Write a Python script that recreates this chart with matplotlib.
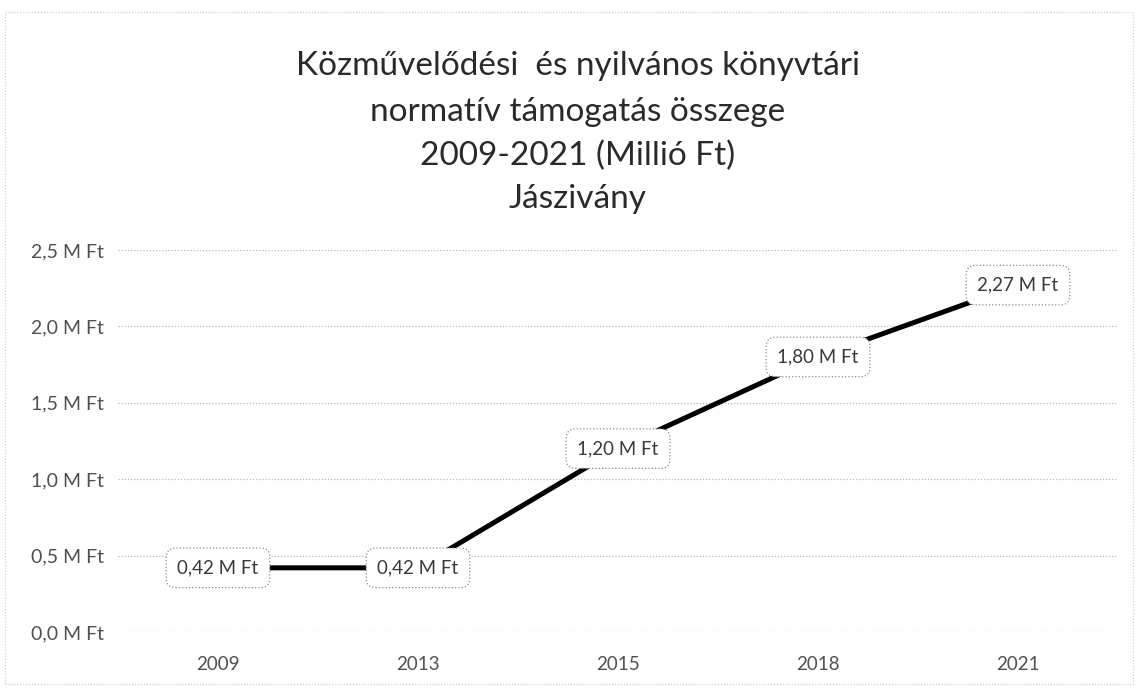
import matplotlib.pyplot as plt
from matplotlib.patches import Rectangle

years = ['2009', '2013', '2015', '2018', '2021']
values = [0.42, 0.42, 1.20, 1.80, 2.27]
yticks = [0.0, 0.5, 1.0, 1.5, 2.0, 2.5]
title_lines = ['Közművelődési  és nyilvános könyvtári',
               'normatív támogatás összege',
               '2009-2021 (Millió Ft)',
               'Jászivány']

plt.rcParams['font.family'] = ['Lato', 'DejaVu Sans']

W, H = 1139, 688
fig = plt.figure(figsize=(W / 100, H / 100), dpi=100)
fig.patch.set_facecolor('white')

# faint outer frame of the chart area
fig.patches.append(Rectangle((5 / W, 1 - 684 / H), 1128 / W, 672 / H,
                             transform=fig.transFigure, fill=False,
                             ec='#c8c8c8', lw=0.8, ls=':'))

ax = fig.add_axes([118 / W, 1 - 632 / H, 1000 / W, 382 / H])
x = list(range(len(years)))
ax.plot(x, values, color='black', lw=3.6, solid_capstyle='butt', zorder=2)

for xi, v in zip(x, values):
    lab = f'{v:.2f}'.replace('.', ',') + ' M Ft'
    ax.text(xi, v, lab, ha='center', va='center', fontsize=13.5, color='#3a3a3a',
            zorder=3,
            bbox=dict(boxstyle='round,pad=0.6,rounding_size=0.5', fc='white',
                      ec='#8a8a8a', lw=0.9, ls=':'))

ax.set_xlim(-0.5, len(years) - 0.5)
ax.set_ylim(0, 2.5)
ax.set_xticks(x)
ax.set_xticklabels(years)
ax.set_yticks(yticks)
ax.set_yticklabels([f'{t:.1f}'.replace('.', ',') + ' M Ft' for t in yticks])
ax.tick_params(length=0, labelsize=14, labelcolor='#505050')
ax.tick_params(axis='x', labelsize=13.5, pad=17)
ax.tick_params(axis='y', pad=10)
for s in ax.spines.values():
    s.set_visible(False)
ax.grid(axis='y', color='#b8b8b8', lw=0.9, ls=(0, (1, 1.5)))
ax.set_axisbelow(True)

ty = [66, 112, 156, 199]
for line, yy in zip(title_lines, ty):
    fig.text(578 / W, 1 - yy / H, line, ha='center', va='center',
             fontsize=24, color='#2a2a2a')

fig.savefig('out.png', dpi=100)
